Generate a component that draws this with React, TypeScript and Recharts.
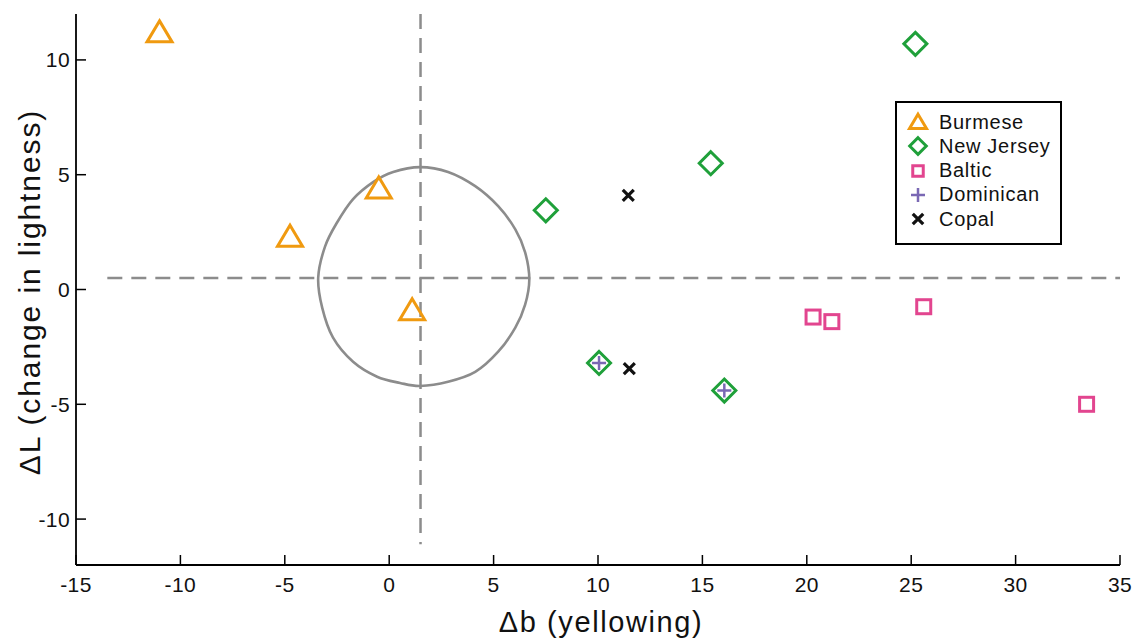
import { Legend, ReferenceLine, Scatter, ScatterChart, XAxis, YAxis } from "recharts";

const FONT = "'Liberation Sans', Arial, Helvetica, sans-serif";

const ORANGE = "#f09a10";
const GREEN = "#1fa03a";
const PINK = "#e2458f";
const PURPLE = "#7a68b4";
const BLACK = "#111111";
const GREY = "#8c8c8c";

// axis ticks
const xTicks = [-15, -10, -5, 0, 5, 10, 15, 20, 25, 30, 35];
const yTicks = [-10, -5, 0, 5, 10];

// samples (Δb, ΔL)
const burmese = [
  { x: -11.0, y: 11.2 },
  { x: -4.75, y: 2.3 },
  { x: -0.5, y: 4.4 },
  { x: 1.1, y: -0.9 },
];
const newJersey = [
  { x: 25.2, y: 10.7 },
  { x: 15.4, y: 5.5 },
  { x: 7.5, y: 3.45 },
  { x: 10.05, y: -3.2 },
  { x: 16.05, y: -4.4 },
];
const baltic = [
  { x: 20.3, y: -1.2 },
  { x: 21.2, y: -1.4 },
  { x: 25.6, y: -0.75 },
  { x: 33.4, y: -5.0 },
];
const dominican = [
  { x: 10.05, y: -3.2 },
  { x: 16.05, y: -4.4 },
];
const copal = [
  { x: 11.45, y: 4.1 },
  { x: 11.5, y: -3.45 },
];

// outline of the grey tolerance region, traced clockwise from the top
const region = [
  { x: 1.48, y: 5.33 },
  { x: 2.82, y: 5.12 },
  { x: 4.12, y: 4.5 },
  { x: 5.22, y: 3.63 },
  { x: 6.04, y: 2.62 },
  { x: 6.51, y: 1.62 },
  { x: 6.71, y: 0.44 },
  { x: 6.51, y: -0.66 },
  { x: 6.04, y: -1.66 },
  { x: 5.22, y: -2.71 },
  { x: 4.12, y: -3.59 },
  { x: 2.82, y: -4.02 },
  { x: 1.48, y: -4.2 },
  { x: 0.52, y: -4.07 },
  { x: -0.58, y: -3.8 },
  { x: -1.73, y: -3.15 },
  { x: -2.69, y: -2.1 },
  { x: -3.21, y: -0.79 },
  { x: -3.4, y: 0.52 },
  { x: -3.07, y: 1.88 },
  { x: -2.49, y: 2.93 },
  { x: -1.73, y: 3.94 },
  { x: -0.77, y: 4.68 },
  { x: 0.19, y: 5.12 },
];

// dashed cross-hair
const crossX = 1.5;
const crossY = 0.5;
const crossYBottom = -11.1;
const crossXLeft = -13.5;

// smooth closed curve through the traced points (Catmull-Rom)
const closedSmooth = (ctx: any) => {
  let pts: number[][] = [];
  return {
    areaStart() {},
    areaEnd() {},
    lineStart() {
      pts = [];
    },
    point(x: number, y: number) {
      pts.push([x, y]);
    },
    lineEnd() {
      const n = pts.length;
      if (!n) return;
      ctx.moveTo(pts[0][0], pts[0][1]);
      for (let i = 0; i < n; i++) {
        const p0 = pts[(i - 1 + n) % n];
        const p1 = pts[i];
        const p2 = pts[(i + 1) % n];
        const p3 = pts[(i + 2) % n];
        ctx.bezierCurveTo(
          p1[0] + (p2[0] - p0[0]) / 6,
          p1[1] + (p2[1] - p0[1]) / 6,
          p2[0] - (p3[0] - p1[0]) / 6,
          p2[1] - (p3[1] - p1[1]) / 6,
          p2[0],
          p2[1]
        );
      }
      ctx.closePath();
    },
  };
};

type Kind = "tri" | "diamond" | "square" | "plus" | "cross";

function marker(kind: Kind, cx: number, cy: number, k = 1) {
  switch (kind) {
    case "tri":
      return (
        <polygon
          points={`${cx},${cy - 11.5 * k} ${cx + 12.5 * k},${cy + 9.5 * k} ${cx - 12.5 * k},${cy + 9.5 * k}`}
          fill="none"
          stroke={ORANGE}
          strokeWidth={3}
        />
      );
    case "diamond":
      return (
        <polygon
          points={`${cx},${cy - 11.5 * k} ${cx + 11.5 * k},${cy} ${cx},${cy + 11.5 * k} ${cx - 11.5 * k},${cy}`}
          fill="none"
          stroke={GREEN}
          strokeWidth={3}
        />
      );
    case "square":
      return (
        <rect x={cx - 7 * k} y={cy - 7 * k} width={14 * k} height={14 * k} fill="none" stroke={PINK} strokeWidth={3} />
      );
    case "plus":
      return (
        <path
          d={`M${cx - 7 * k},${cy}H${cx + 7 * k}M${cx},${cy - 7 * k}V${cy + 7 * k}`}
          stroke={PURPLE}
          strokeWidth={2.5}
        />
      );
    default:
      return (
        <path
          d={`M${cx - 5.5 * k},${cy - 5.5 * k}L${cx + 5.5 * k},${cy + 5.5 * k}M${cx + 5.5 * k},${cy - 5.5 * k}L${cx - 5.5 * k},${cy + 5.5 * k}`}
          stroke={BLACK}
          strokeWidth={3.2}
        />
      );
  }
}

const shapeOf = (kind: Kind) => (p: any) => marker(kind, p.cx, p.cy);

const legendItems: { name: string; kind: Kind; k: number }[] = [
  { name: "Burmese", kind: "tri", k: 0.68 },
  { name: "New Jersey", kind: "diamond", k: 0.72 },
  { name: "Baltic", kind: "square", k: 0.75 },
  { name: "Dominican", kind: "plus", k: 1 },
  { name: "Copal", kind: "cross", k: 0.95 },
];

function LegendBox() {
  return (
    <div
      style={{
        width: 163,
        height: 140,
        border: "2px solid #000",
        background: "#fff",
        fontFamily: FONT,
        fontSize: 20,
        color: "#111",
        position: "relative",
      }}
    >
      {legendItems.map((it, i) => (
        <div key={it.name} style={{ position: "absolute", left: 0, top: 7 + i * 24.3, height: 24, display: "flex", alignItems: "center" }}>
          <svg width={40} height={24} style={{ display: "block" }}>
            {marker(it.kind, 21, 12, it.k)}
          </svg>
          <span style={{ marginLeft: 2, letterSpacing: 0.7 }}>{it.name}</span>
        </div>
      ))}
    </div>
  );
}

const XTick = (p: any) => (
  <text x={p.x} y={592} textAnchor="middle" fontFamily={FONT} fontSize={21} letterSpacing={0.4} fill="#111">
    {p.payload.value}
  </text>
);

const YTick = (p: any) => (
  <text x={70} y={p.y + 7.5} textAnchor="end" fontFamily={FONT} fontSize={21} letterSpacing={0.4} fill="#111">
    {p.payload.value}
  </text>
);

export default function App() {
  return (
    <div style={{ position: "absolute", left: 0, top: 0, background: "#fff" }}>
      <ScatterChart width={1135} height={639} margin={{ top: 14, right: 15, bottom: 0, left: 0 }}>
        <XAxis
          type="number"
          dataKey="x"
          domain={[-15, 35]}
          ticks={xTicks}
          allowDataOverflow
          height={74}
          tickSize={-10}
          tick={<XTick />}
          axisLine={{ stroke: "#000", strokeWidth: 1.8 }}
          tickLine={{ stroke: "#000", strokeWidth: 1.5 }}
          label={{
            content: () => (
              <text x={601} y={632} textAnchor="middle" fontFamily={FONT} fontSize={29} letterSpacing={1.6} fill="#111">
                Δb (yellowing)
              </text>
            ),
          }}
        />
        <XAxis
          xAxisId="top"
          orientation="top"
          type="number"
          domain={[-15, 35]}
          ticks={xTicks}
          allowDataOverflow
          height={0}
          tickSize={-10}
          tick={false}
          axisLine={{ stroke: "#000", strokeWidth: 1.8 }}
          tickLine={{ stroke: "#000", strokeWidth: 1.5 }}
        />
        <YAxis
          type="number"
          dataKey="y"
          domain={[-12, 12]}
          ticks={yTicks}
          allowDataOverflow
          width={76}
          tickSize={-10}
          tick={<YTick />}
          axisLine={{ stroke: "#000", strokeWidth: 1.8 }}
          tickLine={{ stroke: "#000", strokeWidth: 1.5 }}
          label={{
            content: () => (
              <text
                x={40}
                y={292}
                transform="rotate(-90, 40, 292)"
                textAnchor="middle"
                fontFamily={FONT}
                fontSize={30}
                letterSpacing={1.9}
                fill="#111"
              >
                ΔL (change in lightness)
              </text>
            ),
          }}
        />
        <YAxis
          yAxisId="right"
          orientation="right"
          type="number"
          domain={[-12, 12]}
          ticks={yTicks}
          allowDataOverflow
          width={0}
          tickSize={-10}
          tick={false}
          axisLine={{ stroke: "#000", strokeWidth: 1.8 }}
          tickLine={{ stroke: "#000", strokeWidth: 1.5 }}
        />
        <ReferenceLine
          segment={[
            { x: crossX, y: 12 },
            { x: crossX, y: crossYBottom },
          ]}
          stroke={GREY}
          strokeWidth={2.5}
          strokeDasharray="15 9"
        />
        <ReferenceLine
          segment={[
            { x: crossXLeft, y: crossY },
            { x: 35, y: crossY },
          ]}
          stroke={GREY}
          strokeWidth={2.5}
          strokeDasharray="15 9"
        />
        <Scatter
          name="region"
          data={region}
          legendType="none"
          line={{ stroke: GREY, strokeWidth: 2.6, fill: "none" }}
          lineJointType={closedSmooth as any}
          shape={() => <g />}
          isAnimationActive={false}
        />
        <Scatter name="Burmese" data={burmese} shape={shapeOf("tri")} isAnimationActive={false} />
        <Scatter name="New Jersey" data={newJersey} shape={shapeOf("diamond")} isAnimationActive={false} />
        <Scatter name="Baltic" data={baltic} shape={shapeOf("square")} isAnimationActive={false} />
        <Scatter name="Dominican" data={dominican} shape={shapeOf("plus")} isAnimationActive={false} />
        <Scatter name="Copal" data={copal} shape={shapeOf("cross")} isAnimationActive={false} />
        <Legend
          layout="vertical"
          align="center"
          verticalAlign="middle"
          content={() => <LegendBox />}
          wrapperStyle={{ left: 895, top: 101, width: 167, height: 144 }}
        />
      </ScatterChart>
    </div>
  );
}
